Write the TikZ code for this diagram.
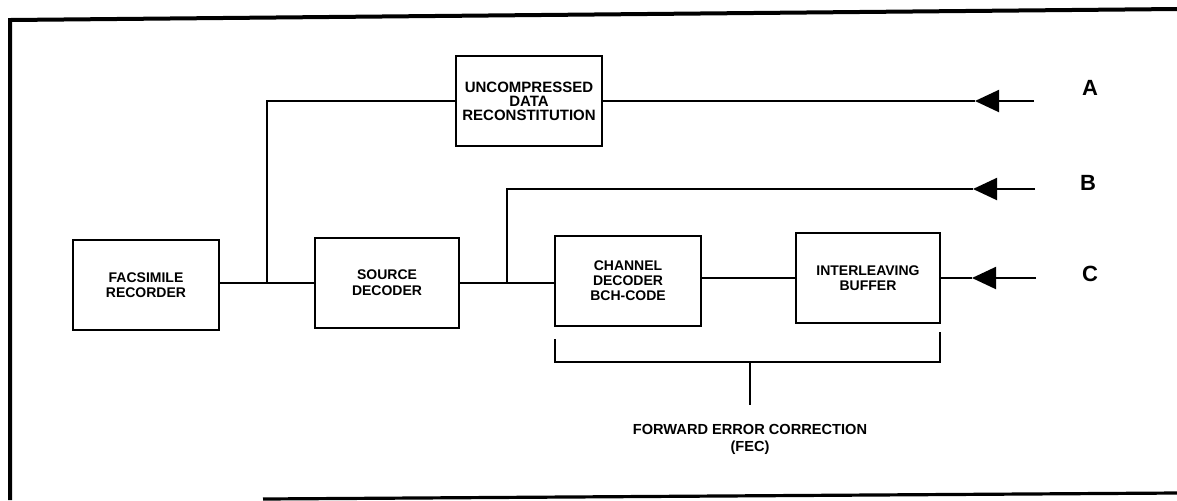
\documentclass[tikz,border=0pt]{standalone}
\usepackage{fontspec}
\setmainfont{Liberation Sans}
\usetikzlibrary{arrows.meta}

\tikzset{
  block/.style={draw, line width=1pt, minimum width=73pt, minimum height=45pt,
    inner sep=0pt, align=center, font=\fontsize{7}{7.5}\selectfont\bfseries},
  tag/.style={font=\fontsize{11}{12}\selectfont\bfseries},
  feed/.style={-{Triangle[length=12pt, width=11pt]}},
}

\begin{document}
\begin{tikzpicture}[x=0.5pt, y=-0.5pt, line width=1pt]
  \useasboundingbox (0,0) rectangle (1177,500);

  % frame
  \draw[line width=2pt] (10,500) -- (10,20) -- (1177,9);
  \draw[line width=1.6pt] (263,499) -- (1177,493);

  % blocks
  \node[block] (fax) at (146,285) {FACSIMILE\\RECORDER};
  \node[block, font=\fontsize{7}{8}\selectfont\bfseries, minimum width=72pt] (src) at (387,283) {SOURCE\\DECODER};
  \node[block, font=\fontsize{7.5}{7}\selectfont\bfseries] (udr) at (529,101) {UNCOMPRESSED\\DATA\\RECONSTITUTION};
  \node[block] (chd) at (628,281) {CHANNEL\\DECODER\\BCH-CODE};
  \node[block, minimum width=72pt] (ilb) at (868,278) {INTERLEAVING\\BUFFER};

  \coordinate (j1) at (267,283);
  \coordinate (j2) at (507,283);
  \coordinate (tipA) at (975,101);
  \coordinate (inA) at (1034,101);
  \coordinate (tipB) at (973,189);
  \coordinate (inB) at (1035,189);
  \coordinate (tipC) at (972,278);
  \coordinate (inC) at (1036,278);

  % connectors
  \draw (fax.east |- src.west) -- (src.west);
  \draw (src.east) -- (src.east -| chd.west);
  \draw (chd.east |- ilb.west) -- (ilb.west);
  \draw (j1) |- (udr.west);
  \draw (j2) |- (tipB);
  \draw (udr.east) -- (tipA);
  \draw (ilb.east) -- (tipC);
  \draw[feed] (inA) -- (tipA);
  \draw[feed] (inB) -- (tipB);
  \draw[feed] (inC) -- (tipC);

  \node[tag] (a) at (1090,88) {A};
  \node[tag] (b) at (1088,183) {B};
  \node[tag] (c) at (1090,274) {C};

  % FEC bracket
  \coordinate (brk) at (750,362);
  \coordinate (stem) at (750,405);
  \draw (555,339) -- (555,362) -- (940,362) -- (940,332);
  \draw (brk) -- (stem);
  \node[align=center, font=\fontsize{7.3}{8.5}\selectfont\bfseries] (fec) at (750,439)
    {FORWARD ERROR CORRECTION\\(FEC)};
\end{tikzpicture}
\end{document}
